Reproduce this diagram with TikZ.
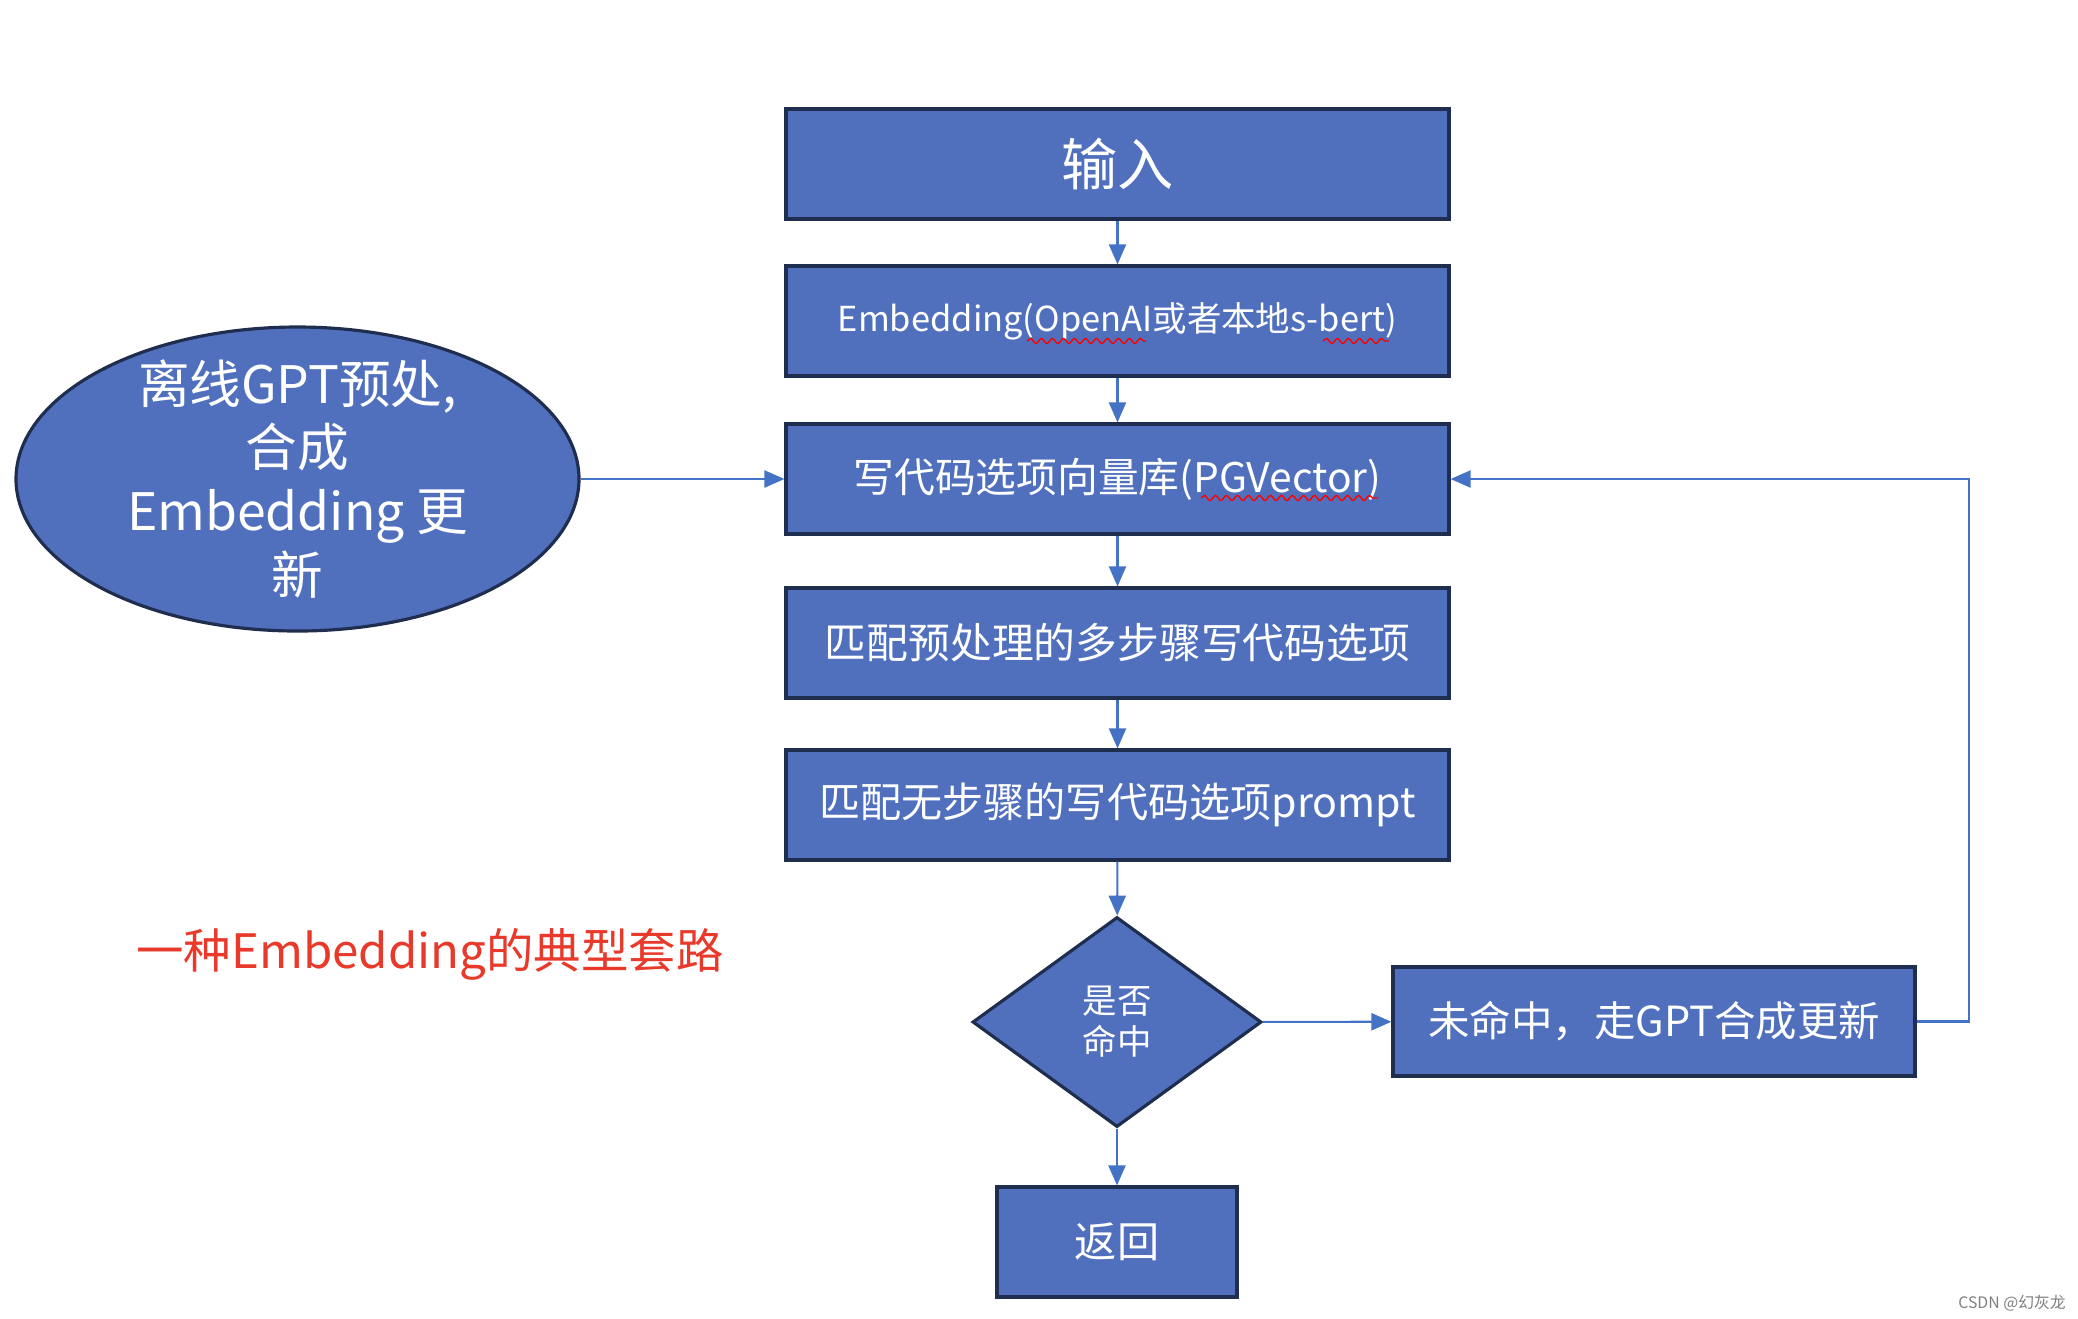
\documentclass[tikz,border=0pt]{standalone}
\usepackage{fontspec}
\setmainfont{Noto Sans CJK SC}
\usetikzlibrary{arrows.meta, shapes.geometric, decorations.pathmorphing}
\definecolor{boxblue}{HTML}{5070BD}
\definecolor{edgenavy}{HTML}{1F2D4E}
\definecolor{lineblue}{HTML}{4472C4}
\definecolor{titlered}{HTML}{E8392A}
\tikzset{
  stepbox/.style={rectangle, draw=edgenavy, fill=boxblue, line width=0.9pt, text=white,
    minimum width=6.63cm, minimum height=1.1cm, inner sep=0pt},
  flow/.style={draw=lineblue, line width=0.6pt, -{Triangle[width=0.17cm,length=0.2cm]}},
  squiggle/.style={draw=red, line width=0.4pt, decorate, decoration={snake, segment length=1.1mm, amplitude=0.25mm}}
}
\begin{document}
\begin{tikzpicture}
\useasboundingbox (0,0) rectangle (20.78,-13.18);
\fill[white] (0,0) rectangle (20.78,-13.18);

%Main column of steps
\node[stepbox] (input) at (11.175,-1.64){\fontsize{16}{19}\selectfont 输入};
\node[stepbox] (embed) at (11.175,-3.21){\fontsize{9.8}{12}\selectfont Embedding(OpenAI或者本地s-bert)};
\node[stepbox] (store) at (11.175,-4.79){\fontsize{11.6}{14}\selectfont 写代码选项向量库(PGVector)};
\node[stepbox] (multi) at (11.175,-6.43){\fontsize{11.9}{14}\selectfont 匹配预处理的多步骤写代码选项};
\node[stepbox] (single) at (11.175,-8.05){\fontsize{11.7}{14}\selectfont 匹配无步骤的写代码选项prompt};

%Decision and its two ways out
\node[diamond, draw=edgenavy, fill=boxblue, line width=0.9pt, text=white, inner sep=0pt,
  minimum width=2.89cm, minimum height=2.1cm, align=center, font=\fontsize{9.8}{11.7}\selectfont]
  (hit) at (11.17,-10.22) {是否\\命中};
\node[stepbox, minimum width=5.22cm, minimum height=1.09cm] (miss) at (16.54,-10.215)
  {\fontsize{11.8}{14}\selectfont 未命中，走GPT合成更新};
\node[stepbox, minimum width=2.4cm] (back) at (11.17,-12.42){\fontsize{12}{14}\selectfont 返回};

%Offline side
\node[ellipse, draw=edgenavy, fill=boxblue, line width=0.9pt, inner sep=0pt,
  minimum width=5.63cm, minimum height=3.04cm] (offline) at (2.975,-4.79) {};
\node[text=white, align=center, font=\fontsize{14.7}{18.2}\selectfont] (offlinetext) at (offline.center)
  {离线GPT预处,\\合成\\Embedding 更\\新};

%Title and mark
\node[text=titlered] (title) at (4.30,-9.54){\fontsize{13.5}{16}\selectfont 一种Embedding的典型套路};
\node[text=gray] (mark) at (20.12,-13.03){\fontsize{4.5}{5}\selectfont CSDN @幻灰龙};

%Spell check marks
\draw[squiggle] (10.27,-3.41) -- (11.46,-3.41);
\draw[squiggle] (13.23,-3.41) -- (13.89,-3.41);
\draw[squiggle] (12.01,-4.98) -- (13.78,-4.98);

%Connectors
\draw[flow] (input) -- (embed);
\draw[flow] (embed) -- (store);
\draw[flow] (store) -- (multi);
\draw[flow] (multi) -- (single);
\draw[flow] (single) -- (hit);
\draw[flow] (hit) -- (back);
\draw[flow] (hit) -- (miss);
\draw[flow] (offline) -- (store);
\coordinate (turn) at (19.69,-10.215);
\draw[flow] (miss) -- (turn) |- (store);

\end{tikzpicture}
\end{document}
